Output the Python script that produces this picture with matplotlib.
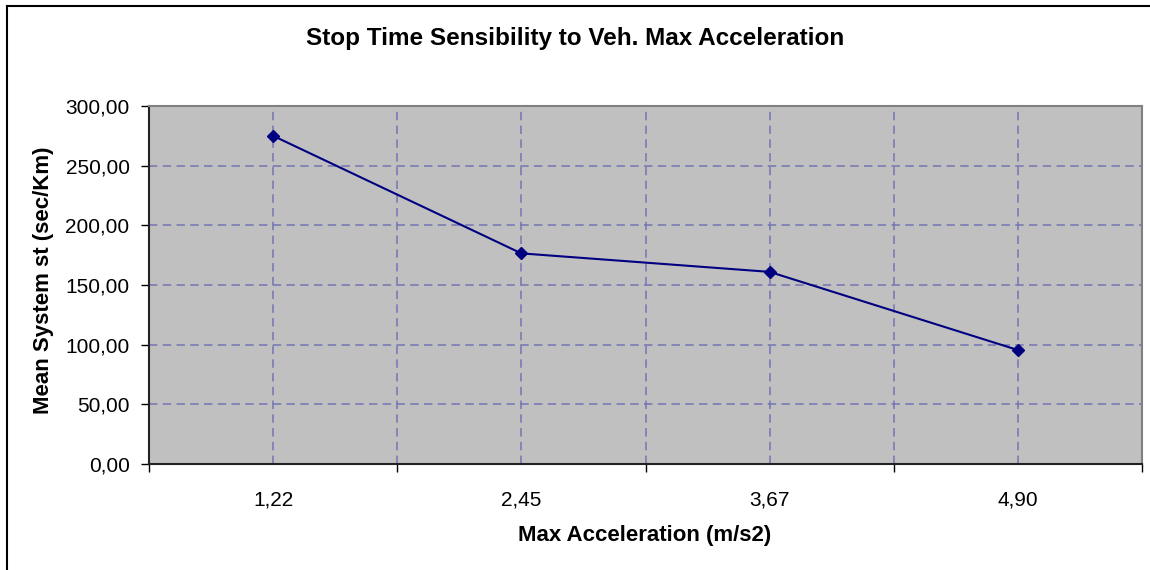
#!/usr/bin/env python3
# -*- coding: UTF-8 -*-
"""
Line chart of mean system stop time against vehicle max acceleration.
"""

import numpy as np
import matplotlib.pyplot as plt
from matplotlib.lines import Line2D
from matplotlib.ticker import FixedLocator, FuncFormatter

# Data
accel_labels = ["1,22", "2,45", "3,67", "4,90"]
stop_time = [275.0, 176.5, 161.0, 95.5]
y_ticks = [0, 50, 100, 150, 200, 250, 300]

plt.rcParams['font.family'] = ['Liberation Sans', 'DejaVu Sans']


def comma_fmt(v, pos):
    return f"{v:.2f}".replace('.', ',')


def main():
    fig = plt.figure(figsize=(11.5, 5.7), dpi=100)
    ax = fig.add_axes([149 / 1150, 106 / 570, 993 / 1150, 358 / 570])
    ax.set_facecolor('#c0c0c0')

    x = np.arange(len(accel_labels))
    ax.set_xlim(-0.5, len(accel_labels) - 0.5)
    ax.set_ylim(y_ticks[0], y_ticks[-1])

    # tick marks on category boundaries, labels on category centres
    ax.xaxis.set_major_locator(FixedLocator(np.arange(-0.5, len(accel_labels)), ))
    ax.xaxis.set_major_formatter(FuncFormatter(lambda v, p: ""))
    ax.xaxis.set_minor_locator(FixedLocator(x))
    ax.set_xticks(x, accel_labels, minor=True)
    ax.tick_params(axis='x', which='major', direction='out', length=6, width=1, color='black')
    ax.tick_params(axis='x', which='minor', length=0, pad=19, labelsize=15)

    ax.yaxis.set_major_locator(FixedLocator(y_ticks))
    ax.yaxis.set_major_formatter(FuncFormatter(comma_fmt))
    ax.tick_params(axis='y', direction='out', length=6, width=1, color='black',
                   pad=8, labelsize=15)

    # dashed grid at every half category and every 50
    grid_kw = dict(color='#7474b4', linewidth=1.1, dashes=(5.5, 3.5))
    ax.grid(True, which='both', axis='x', **grid_kw)
    ax.grid(True, which='major', axis='y', **grid_kw)
    ax.set_axisbelow(True)

    for side in ('top', 'right'):
        ax.spines[side].set_color('#808080')
        ax.spines[side].set_linewidth(1.5)
    for side in ('left', 'bottom'):
        ax.spines[side].set_color('#222222')
        ax.spines[side].set_linewidth(1.5)

    ax.plot(x, stop_time, color='#000080', linewidth=1.5,
            marker='D', markersize=6.5, markerfacecolor='#000080',
            markeredgecolor='#000080', zorder=5)

    fig.text(575 / 1150, 1 - 39 / 570, "Stop Time Sensibility to Veh. Max Acceleration",
             ha='center', va='center', fontsize=17.5, fontweight='bold')
    fig.text(645 / 1150, 1 - 535 / 570, "Max Acceleration (m/s2)",
             ha='center', va='center', fontsize=16, fontweight='bold')
    fig.text(44 / 1150, 1 - 280 / 570, "Mean System st (sec/Km)",
             ha='center', va='center', rotation=90, fontsize=16, fontweight='bold')

    # chart area frame (left and top edges)
    fig.add_artist(Line2D([7 / 1150, 7 / 1150], [0, 1 - 6 / 570],
                          transform=fig.transFigure, color='black', linewidth=1.5))
    fig.add_artist(Line2D([7 / 1150, 1], [1 - 6 / 570, 1 - 6 / 570],
                          transform=fig.transFigure, color='black', linewidth=1.5))

    fig.savefig("out.png", dpi=100)


if __name__ == "__main__":
    main()
